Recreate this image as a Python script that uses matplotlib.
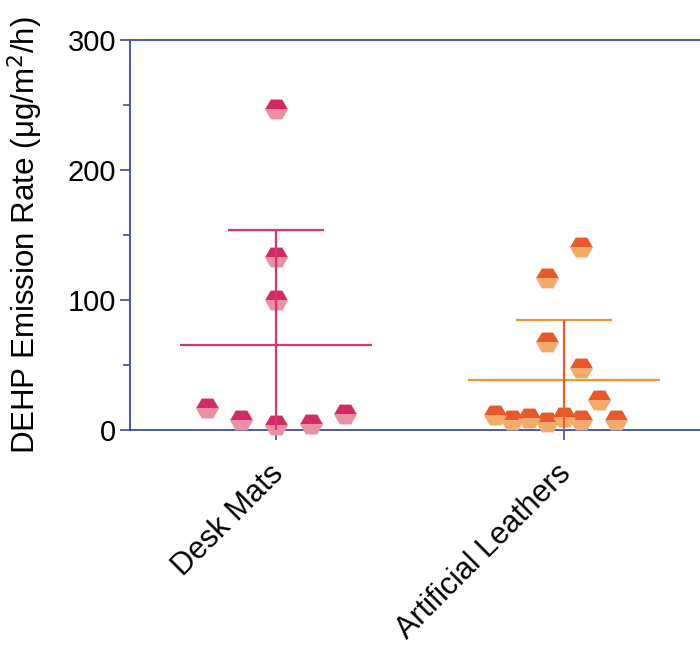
import numpy as np
import matplotlib
matplotlib.use("Agg")
import matplotlib.pyplot as plt
from matplotlib.ticker import MultipleLocator

plt.rcParams['font.family'] = ['Liberation Sans', 'DejaVu Sans']

categories = ["Desk Mats", "Artificial Leathers"]
desk_mats = [247, 133, 100, 17, 8, 4, 5, 12]
desk_slots = [0, 0, 0, -2, -1, 0, 1, 2]          # column-scatter slot per point
leathers = [141, 117, 68, 48, 23, 11.5, 8, 9, 6, 10, 8, 8]
leather_slots = [1, -1, -1, 1, 2, -4, -3, -2, -1, 0, 1, 3]

series = [desk_mats, leathers]
slots = [desk_slots, leather_slots]
slot_width = [0.12, 0.06]
top_colors = ["#D42A63", "#E8582A"]
bottom_colors = ["#EB8FA5", "#F4AA68"]
mean_colors = ["#D8356E", "#E99A35"]
err_colors = ["#D8356E", "#E8602C"]

fig = plt.figure(figsize=(7.0, 6.46), dpi=100)
ax = fig.add_axes([130/700, 216/646, 580/700, 390/646])

spine_c = "#3B4CA6"
for i, (vals, sl) in enumerate(zip(series, slots)):
    vals = np.asarray(vals, float)
    xs = i + np.asarray(sl) * slot_width[i]
    ax.plot(xs, vals, linestyle='none', marker='H', markersize=16.5,
            fillstyle='top', markerfacecolor=top_colors[i],
            markerfacecoloralt=bottom_colors[i], markeredgewidth=0,
            zorder=3, clip_on=False)
    m = vals.mean()
    sd = vals.std(ddof=1)
    ax.hlines(m, i - 0.335, i + 0.335, color=mean_colors[i], lw=1.6, zorder=4)
    ax.hlines(m + sd, i - 0.167, i + 0.167, color=mean_colors[i], lw=1.6, zorder=4)
    ax.vlines(i, max(m - sd, 0), m + sd, color=err_colors[i], lw=1.6, zorder=4)

ax.set_xlim(-0.507, 1.507)
ax.set_ylim(0, 300)
ax.set_xticks(range(len(categories)))
ax.set_xticklabels([])
for i, cat in enumerate(categories):
    ax.annotate(cat, xy=(i, 0), xycoords=('data', 'axes fraction'),
                xytext=(-8, -29), textcoords='offset pixels',
                rotation=45, rotation_mode='anchor', ha='right', va='top',
                fontsize=22, annotation_clip=False)
ax.yaxis.set_major_locator(MultipleLocator(100))
ax.yaxis.set_minor_locator(MultipleLocator(50))
ax.tick_params(axis='y', which='major', length=7, width=1.2, color=spine_c,
               labelsize=21, pad=3)
ax.tick_params(axis='y', which='minor', length=5, width=1.2, color=spine_c)
ax.tick_params(axis='x', length=7, width=1.2, color=spine_c)
for s in ['left', 'bottom', 'top']:
    ax.spines[s].set_color(spine_c)
    ax.spines[s].set_linewidth(1.3)
ax.spines['right'].set_visible(False)
ax.set_ylabel("DEHP Emission Rate (μg/m$^2$/h)", fontsize=22.5, labelpad=16)

fig.savefig("out.png", dpi=100)
